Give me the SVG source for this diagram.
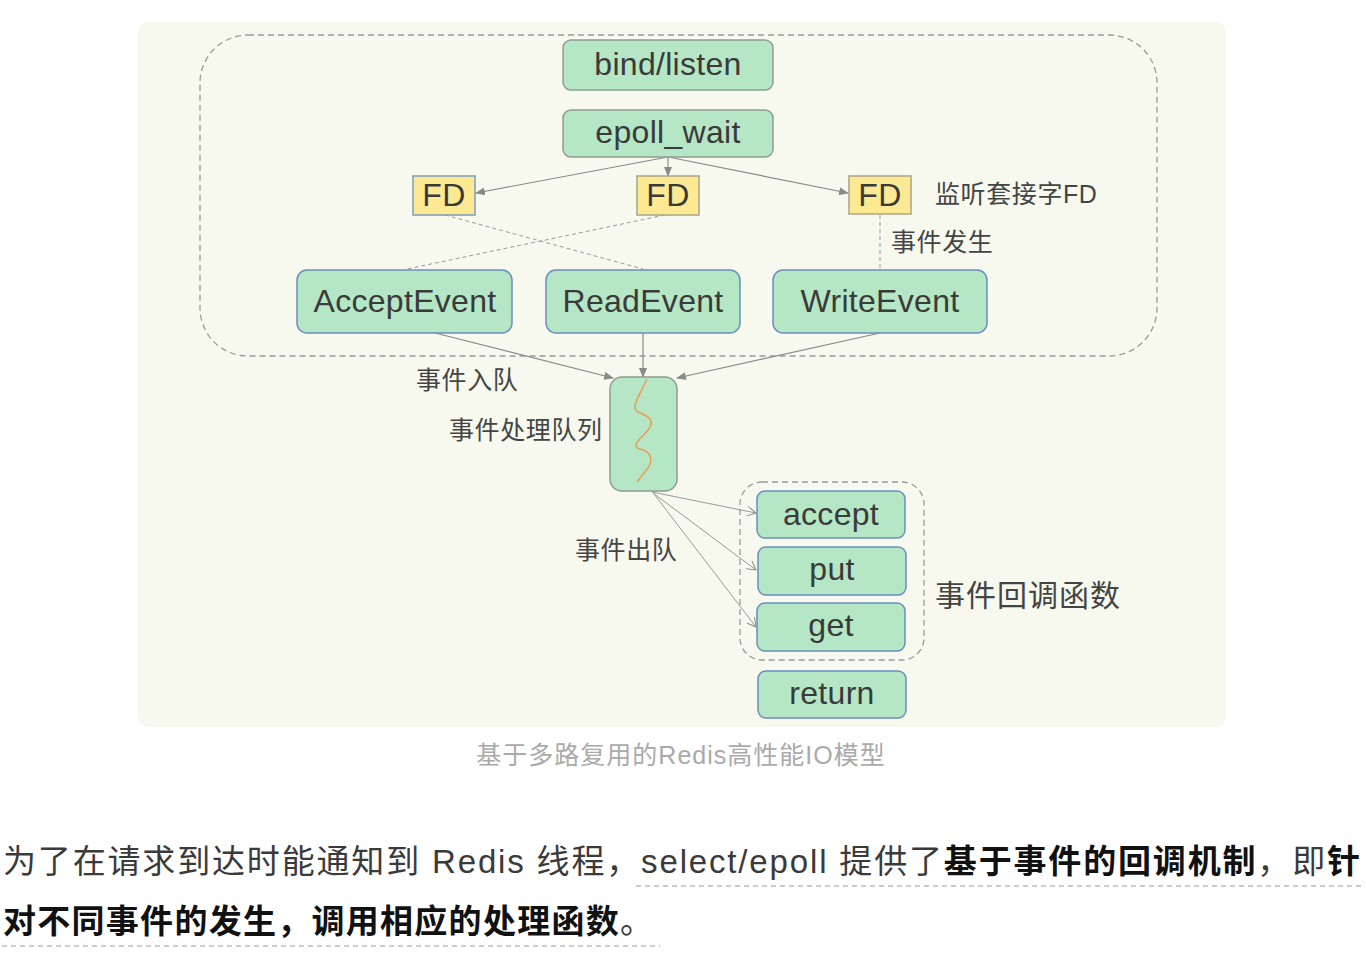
<svg xmlns="http://www.w3.org/2000/svg" width="1366" height="964" viewBox="0 0 1366 964">
<defs>
<style>
.box{fill:#b5e6c5;stroke:#8f9d94;stroke-width:1.5}
.bbox{fill:#b5e6c5;stroke:#6b8fbd;stroke-width:1.5}
.fd{fill:#fde992;stroke:#a9a48a;stroke-width:1.5}
.fdb{fill:#fde992;stroke:#7a9cc2;stroke-width:1.5}
.t{font-family:"Liberation Sans","Noto Sans CJK SC",sans-serif;fill:#3a3a3a;text-anchor:middle;font-size:32px;letter-spacing:0.3px}
.lbl{font-family:"Liberation Sans","Noto Sans CJK SC",sans-serif;fill:#444;font-size:25px;letter-spacing:0.6px}
.ln{stroke:#8a8a8a;stroke-width:1.2;fill:none}
.dl{stroke:#9a9a9a;stroke-width:1;fill:none;stroke-dasharray:4 3}
.thin{stroke:#9a9a9a;stroke-width:1;fill:none}
.para{font-family:"Liberation Sans","Noto Sans CJK SC",sans-serif;font-size:33px;fill:#3a3a3a}
.b{font-weight:bold;fill:#111}
</style>
<marker id="ah" markerWidth="10" markerHeight="8" refX="9" refY="4" orient="auto" markerUnits="userSpaceOnUse">
<path d="M0,0 L10,4 L0,8 Z" fill="#8a8a8a"/>
</marker>
<marker id="av" markerWidth="10" markerHeight="10" refX="9" refY="5" orient="auto" markerUnits="userSpaceOnUse">
<path d="M0,0 L9,5 L0,10" fill="none" stroke="#8a8a8a" stroke-width="1"/>
</marker>
</defs>
<rect x="138" y="22" width="1088" height="705" rx="10" fill="#f7f8ee"/>
<rect x="200" y="35" width="957" height="321" rx="48" fill="none" stroke="#9a9a9a" stroke-width="1.3" stroke-dasharray="6 4"/>
<rect x="740" y="482" width="184" height="178" rx="22" fill="none" stroke="#9a9a9a" stroke-width="1.3" stroke-dasharray="6 4"/>

<g id="connectors">
<line class="ln" x1="668" y1="157" x2="476" y2="193" marker-end="url(#ah)"/>
<line class="ln" x1="668" y1="157" x2="668" y2="176" marker-end="url(#ah)"/>
<line class="ln" x1="668" y1="157" x2="848" y2="193" marker-end="url(#ah)"/>
<line class="dl" x1="445" y1="215" x2="643" y2="269"/>
<line class="dl" x1="665" y1="215" x2="407" y2="269"/>
<line class="dl" x1="880" y1="215" x2="880" y2="269"/>
<line class="ln" x1="435" y1="333" x2="613" y2="378" marker-end="url(#ah)"/>
<line class="ln" x1="643" y1="333" x2="643" y2="377" marker-end="url(#ah)"/>
<line class="ln" x1="880" y1="333" x2="677" y2="378" marker-end="url(#ah)"/>
<line class="thin" x1="652" y1="492" x2="756" y2="513" marker-end="url(#av)"/>
<line class="thin" x1="653" y1="493" x2="756" y2="570" marker-end="url(#av)"/>
<line class="thin" x1="654" y1="494" x2="756" y2="627" marker-end="url(#av)"/>
</g>

<g id="bind"><rect class="box" x="563" y="40" width="210" height="50" rx="8"/><text class="t" x="668" y="75">bind/listen</text></g>
<g id="epoll"><rect class="box" x="563" y="110" width="210" height="47" rx="8"/><text class="t" x="668" y="143">epoll_wait</text></g>
<g id="fd1"><rect class="fdb" x="413" y="176" width="62" height="39"/><text class="t" x="444" y="206">FD</text></g>
<g id="fd2"><rect class="fd" x="637" y="176" width="62" height="39"/><text class="t" x="668" y="206">FD</text></g>
<g id="fd3"><rect class="fd" x="849" y="176" width="62" height="38"/><text class="t" x="880" y="206">FD</text></g>
<g id="accept-ev"><rect class="bbox" x="297" y="270" width="215" height="63" rx="10"/><text class="t" x="405" y="312">AcceptEvent</text></g>
<g id="read-ev"><rect class="bbox" x="546" y="270" width="194" height="63" rx="10"/><text class="t" x="643" y="312">ReadEvent</text></g>
<g id="write-ev"><rect class="bbox" x="773" y="270" width="214" height="63" rx="10"/><text class="t" x="880" y="312">WriteEvent</text></g>
<g id="queue"><rect class="box" x="610" y="377" width="67" height="114" rx="12"/>
<path d="M647,379 C640,395 630,408 638,412 C648,416 656,420 648,430 C640,440 630,446 640,449 C652,452 653,460 648,468 L637,482" fill="none" stroke="#e8a050" stroke-width="1.5"/></g>
<g id="cb-accept"><rect class="bbox" x="757" y="491" width="148" height="47" rx="8"/><text class="t" x="831" y="525">accept</text></g>
<g id="cb-put"><rect class="bbox" x="758" y="547" width="148" height="48" rx="8"/><text class="t" x="832" y="580">put</text></g>
<g id="cb-get"><rect class="bbox" x="757" y="603" width="148" height="48" rx="8"/><text class="t" x="831" y="636">get</text></g>
<g id="cb-return"><rect class="bbox" x="758" y="671" width="148" height="47" rx="8"/><text class="t" x="832" y="704">return</text></g>

<g id="labels">
<text class="lbl" x="935" y="203">监听套接字FD</text>
<text class="lbl" x="891" y="251">事件发生</text>
<text class="lbl" x="416" y="389">事件入队</text>
<text class="lbl" x="449" y="439">事件处理队列</text>
<text class="lbl" x="575" y="559">事件出队</text>
<text class="lbl" x="935" y="606" style="font-size:30px;letter-spacing:1px">事件回调函数</text>
</g>
<text x="681" y="764" font-family="Liberation Sans,Noto Sans CJK SC,sans-serif" font-size="25" letter-spacing="1" fill="#aaaaaa" text-anchor="middle">基于多路复用的Redis高性能IO模型</text>

<g id="paragraph">
<text class="para" x="3" y="873" textLength="1357" lengthAdjust="spacing">为了在请求到达时能通知到 Redis 线程，select/epoll 提供了<tspan class="b">基于事件的回调机制</tspan>，即<tspan class="b">针</tspan></text>
<text class="para" x="3" y="933" textLength="650" lengthAdjust="spacing"><tspan class="b">对不同事件的发生，调用相应的处理函数</tspan>。</text>
<line x1="636" y1="886" x2="1362" y2="886" stroke="#bbbbbb" stroke-width="1.5" stroke-dasharray="5 4"/>
<line x1="2" y1="946" x2="660" y2="946" stroke="#bbbbbb" stroke-width="1.5" stroke-dasharray="5 4"/>
</g>
</svg>
